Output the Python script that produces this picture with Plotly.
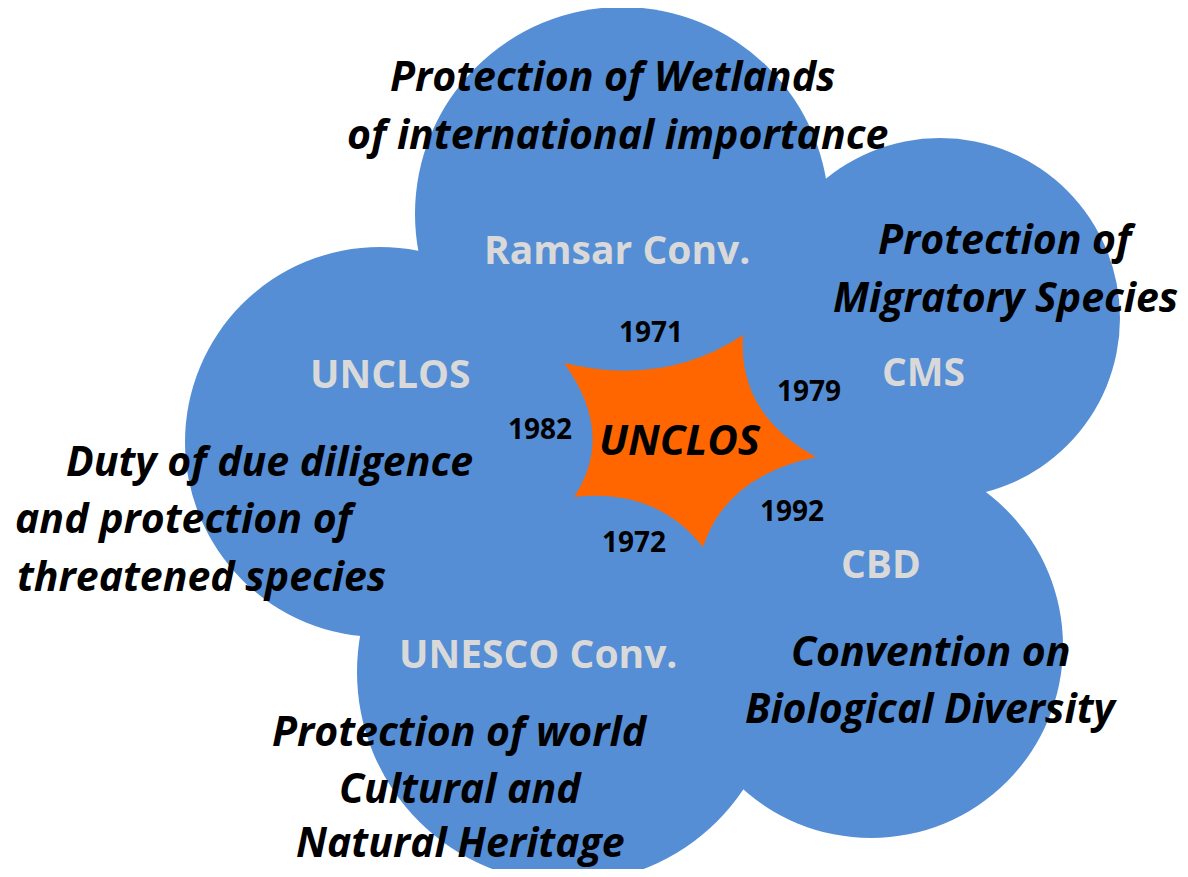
import plotly.graph_objects as go

# ---- content ----
convention_names = ["Ramsar Conv.", "CMS", "CBD", "UNESCO Conv.", "UNCLOS"]
convention_years = ["1971", "1979", "1992", "1972", "1982"]
convention_topics = [
    ["Protection of Wetlands", "of international importance"],
    ["Protection of", "Migratory Species"],
    ["Convention on", "Biological Diversity"],
    ["Protection of world", "Cultural and", "Natural Heritage"],
    ["Duty of due diligence", "and protection of", "threatened species"],
]
center_label = "UNCLOS"

# ---- layout geometry (page pixel space) ----
W, H = 1188, 877
PAGE_MARGIN = 8  # default body margin of the html page
circle_cx = [622, 940, 871, 568, 380]
circle_cy = [214, 318, 646, 672, 442]
circle_r = [207, 180, 192, 211, 195]
hub = (680, 445, 160)
name_pos = [(617, 248), (923, 370), (881, 562), (538, 652), (390, 372)]
year_pos = [(651, 331), (809, 390), (792, 510), (634, 541), (540, 428)]
topic_pos = [
    [(612, 75), (617, 133)],
    [(1007, 238), (1005, 296)],
    [(931, 650), (931, 707)],
    [(460, 730), (460, 787), (460, 841)],
    [(269, 460), (186, 517), (201, 575)],
]
star_tips = [(564, 363), (743, 335), (816, 457), (703, 547), (574, 497)]
star_center = (680, 440)
center_pos = (680, 438)

BLUE = "#558ED5"
ORANGE = "#FF6600"
GRAY = "#D9D9D9"
FONT = "Open Sans"

fig = go.Figure()
fig.add_trace(go.Scatter(x=[0, W], y=[0, H], mode="markers",
                         marker=dict(opacity=0), hoverinfo="skip", showlegend=False))

shapes = []
for cx, cy, r in list(zip(circle_cx, circle_cy, circle_r)) + [hub]:
    shapes.append(dict(type="circle", xref="x", yref="y",
                       x0=cx - r, x1=cx + r, y0=cy - r, y1=cy + r,
                       fillcolor=BLUE, line=dict(width=0), layer="below"))

# concave star path (quadratic curves pulled toward centre)
path = f"M {star_tips[0][0]},{star_tips[0][1]}"
n = len(star_tips)
for i in range(n):
    a = star_tips[i]
    b = star_tips[(i + 1) % n]
    mx, my = (a[0] + b[0]) / 2, (a[1] + b[1]) / 2
    k = 0.42
    qx = mx + (star_center[0] - mx) * k
    qy = my + (star_center[1] - my) * k
    path += f" Q {qx:.1f},{qy:.1f} {b[0]},{b[1]}"
path += " Z"
shapes.append(dict(type="path", xref="x", yref="y", path=path,
                   fillcolor=ORANGE, line=dict(width=0), layer="below"))

ann = []
for name, (x, y) in zip(convention_names, name_pos):
    ann.append(dict(x=x, y=y, text=f"<b>{name}</b>", showarrow=False, borderpad=0,
                    font=dict(family=FONT, size=39, color=GRAY)))
for yr, (x, y) in zip(convention_years, year_pos):
    ann.append(dict(x=x, y=y, text=f"<b>{yr}</b>", showarrow=False, borderpad=0,
                    font=dict(family=FONT, size=28, color="black")))
for lines, poss in zip(convention_topics, topic_pos):
    for line, (x, y) in zip(lines, poss):
        ann.append(dict(x=x, y=y, text=f"<b><i>{line}</i></b>", showarrow=False,
                        borderpad=0, font=dict(family=FONT, size=41, color="black")))
ann.append(dict(x=center_pos[0], y=center_pos[1], text=f"<b><i>{center_label}</i></b>",
                showarrow=False, borderpad=0,
                font=dict(family=FONT, size=42, color="black")))

m = PAGE_MARGIN
fig.update_layout(
    width=W - 2 * m, height=H - 2 * m, margin=dict(l=0, r=0, t=0, b=0),
    paper_bgcolor="white", plot_bgcolor="white",
    xaxis=dict(range=[m, W - m], visible=False, fixedrange=True),
    yaxis=dict(range=[H - m, m], visible=False, fixedrange=True),
    shapes=shapes, annotations=ann, showlegend=False,
)
fig.write_html("out.html")
